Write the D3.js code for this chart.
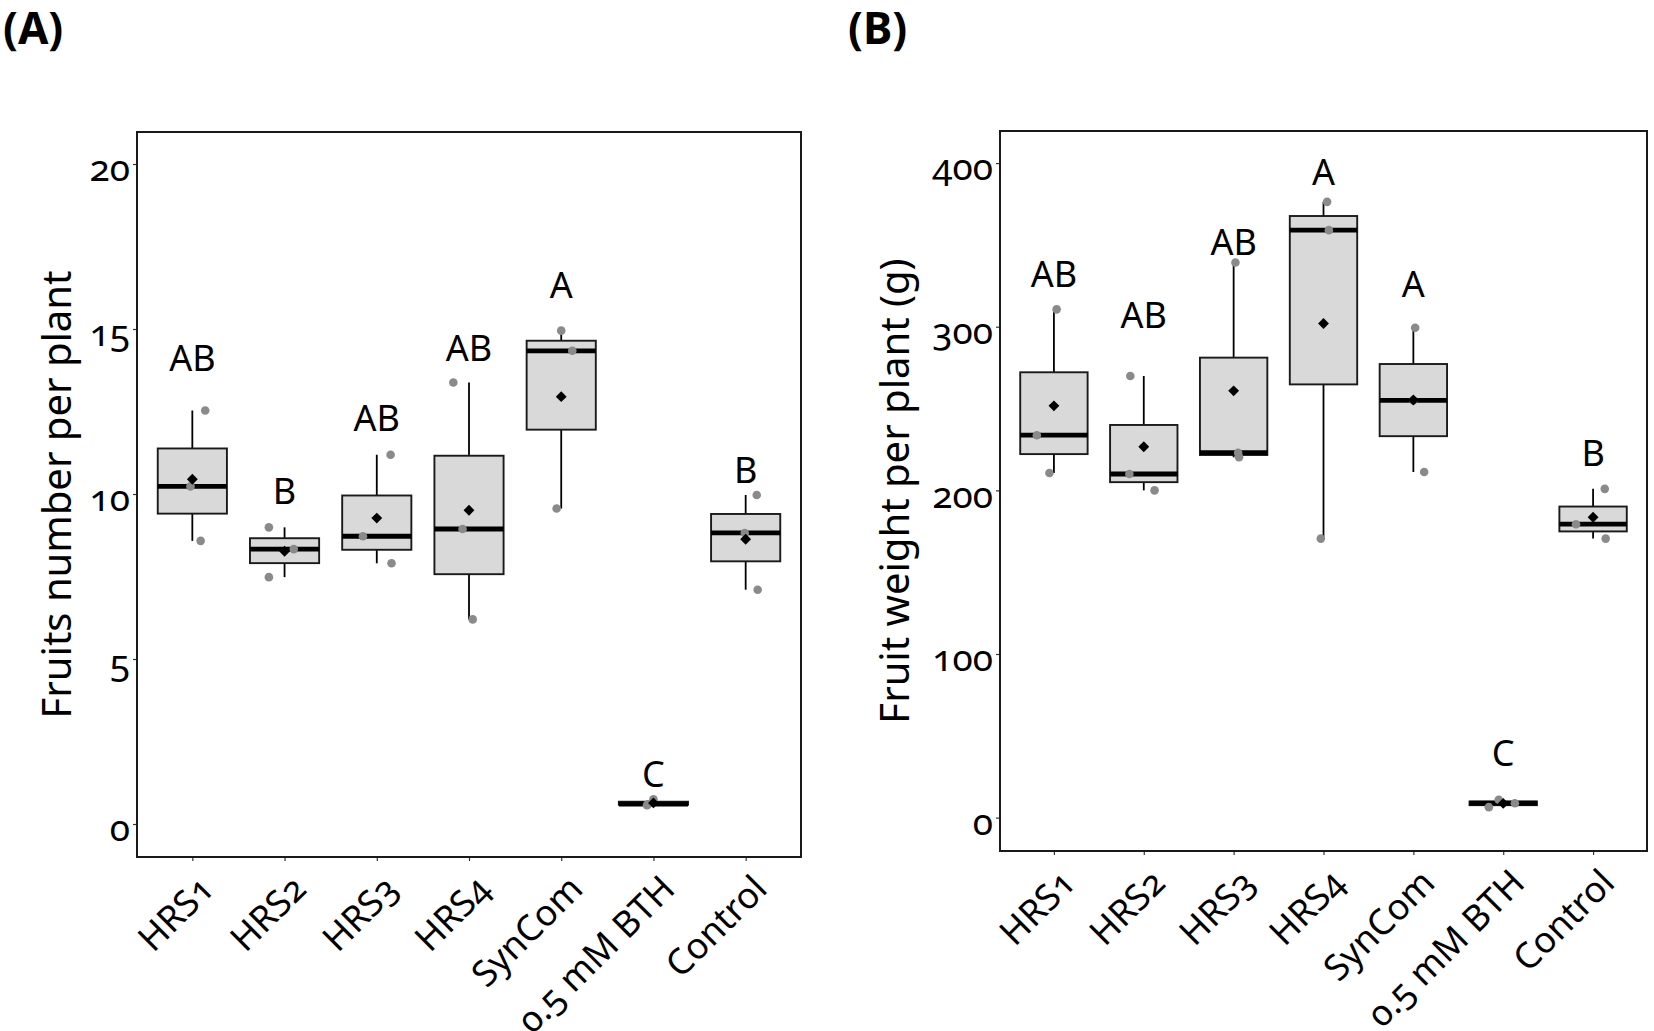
<!DOCTYPE html>
<html>
<head>
<meta charset="utf-8">
<script src="https://cdn.jsdelivr.net/npm/d3@7"></script>
<style>
  body { margin: 0; background: #fff; }
  svg { font-family: "Noto Sans", "Open Sans", sans-serif; font-variant-numeric: oldstyle-nums; font-feature-settings: "onum" 1; }
</style>
</head>
<body>
<svg id="fig" width="1654" height="1031"></svg>
<script>
const categories = ["HRS1", "HRS2", "HRS3", "HRS4", "SynCom", "0.5 mM BTH", "Control"];

// (A) fruits number per plant, three plants per treatment
const fruitsNumber = [
  [8.58, 10.23, 12.53],
  [7.48, 8.33, 8.99],
  [7.90, 8.72, 11.19],
  [6.20, 8.94, 13.38],
  [9.56, 14.34, 14.95],
  [0.57, 0.60, 0.75],
  [7.10, 8.82, 9.97]
];
// horizontal jitter of each point, in category widths
const fruitsJitter = [
  [0.09, -0.02, 0.14],
  [-0.17, 0.10, -0.17],
  [0.16, -0.15, 0.15],
  [0.04, -0.07, -0.17],
  [-0.05, 0.12, 0.0],
  [-0.07, -0.06, 0.0],
  [0.13, -0.01, 0.12]
];
const fruitsLetters = ["AB", "B", "AB", "AB", "A", "C", "B"];
const fruitsLetterY = [14.12, 10.09, 12.31, 14.42, 16.33, 1.52, 10.72];
const fruitsTicks = [0, 5, 10, 15, 20];

// (B) fruit weight per plant (g)
const fruitWeight = [
  [210.6, 233.7, 310.6],
  [200.0, 210.0, 269.9],
  [220.2, 223.0, 339.2],
  [170.5, 359.0, 376.3],
  [211.2, 255.0, 299.4],
  [6.4, 8.8, 10.9],
  [170.5, 179.3, 200.9]
];
const weightJitter = [
  [-0.05, -0.19, 0.03],
  [0.12, -0.16, -0.15],
  [0.06, 0.05, 0.02],
  [-0.03, 0.06, 0.04],
  [0.12, 0.0, 0.02],
  [-0.16, 0.13, -0.05],
  [0.14, -0.19, 0.13]
];
const weightLetters = ["AB", "AB", "AB", "A", "A", "C", "B"];
const weightLetterY = [332, 307.3, 352, 394.5, 326, 39.5, 222.8];
const weightTicks = [0, 100, 200, 300, 400];

const svg = d3.select("#fig");

/* box statistics the way R/ggplot does it (type 7 quantiles, 1.5 IQR whiskers) */
function boxStats(vals){
  let v = vals.slice().sort(d3.ascending);
  let q1 = d3.quantile(v, 0.25), med = d3.quantile(v, 0.5), q3 = d3.quantile(v, 0.75);
  let iqr = q3 - q1;
  let lo = d3.min(v.filter(d => d >= q1 - 1.5 * iqr));
  let hi = d3.max(v.filter(d => d <= q3 + 1.5 * iqr));
  return {q1: q1, med: med, q3: q3, lo: lo, hi: hi, mean: d3.mean(v)};
}

function drawPanel(p){
  let x = d3.scalePoint().domain(categories).range([p.left, p.right]).padding(0.6);
  let y = d3.scaleLinear().domain(p.yDomain).range([p.bottom, p.top]);
  let step = x.step();
  let bw = step * 0.75;
  let g = svg.append("g");

  // panel title
  svg.append("text").attr("x", p.titleX).attr("y", 44)
    .attr("font-size", 44).attr("font-weight", "bold").text(p.title);

  // y axis
  let yaxis = g.append("g").attr("transform", `translate(${p.left},0)`)
    .call(d3.axisLeft(y).tickValues(p.ticks).tickSize(4).tickPadding(3).tickFormat(d3.format("d")));
  yaxis.select(".domain").remove();
  yaxis.selectAll(".tick line").attr("stroke", "#333").attr("stroke-width", 1.2);
  yaxis.selectAll(".tick text").attr("font-size", 37).attr("fill", "#000")
    .attr("font-family", "Noto Sans").attr("dy", "0.45em");

  // x axis
  let xaxis = g.append("g").attr("transform", `translate(0,${p.bottom})`)
    .call(d3.axisBottom(x).tickSize(4));
  xaxis.select(".domain").remove();
  xaxis.selectAll(".tick line").attr("stroke", "#333").attr("stroke-width", 1.2);
  xaxis.selectAll(".tick text").attr("font-size", 36).attr("fill", "#000")
    .attr("font-family", "Noto Sans")
    .attr("x", 0).attr("y", 0).attr("dy", 0)
    .attr("text-anchor", "end")
    .attr("transform", "translate(23,34) rotate(-45)");

  // y title
  g.append("text")
    .attr("transform", `translate(${p.yTitleX},${(p.top + p.bottom) / 2}) rotate(-90)`)
    .attr("text-anchor", "middle").attr("font-size", 40).text(p.yTitle);

  // boxes
  p.values.forEach((vals, i) => {
    let s = boxStats(vals);
    let cx = x(categories[i]);
    let bg = g.append("g");
    bg.append("line").attr("x1", cx).attr("x2", cx).attr("y1", y(s.q3)).attr("y2", y(s.hi))
      .attr("stroke", "#000").attr("stroke-width", 1.8);
    bg.append("line").attr("x1", cx).attr("x2", cx).attr("y1", y(s.q1)).attr("y2", y(s.lo))
      .attr("stroke", "#000").attr("stroke-width", 1.8);
    bg.append("rect").attr("x", cx - bw / 2).attr("width", bw)
      .attr("y", y(s.q3)).attr("height", Math.max(y(s.q1) - y(s.q3), 0.5))
      .attr("fill", "#d9d9d9").attr("stroke", "#1a1a1a").attr("stroke-width", 1.9);
    bg.append("line").attr("x1", cx - bw / 2).attr("x2", cx + bw / 2)
      .attr("y1", y(s.med)).attr("y2", y(s.med))
      .attr("stroke", "#000").attr("stroke-width", 4.8);
  });

  // jittered points
  p.values.forEach((vals, i) => {
    let cx = x(categories[i]);
    vals.forEach((v, j) => {
      g.append("circle").attr("cx", cx + p.jitter[i][j] * step).attr("cy", y(v))
        .attr("r", 4.3).attr("fill", "#8a8a8a");
    });
  });

  // means
  let diamond = d3.symbol().type(d3.symbolDiamond2).size(75);
  p.values.forEach((vals, i) => {
    g.append("path").attr("d", diamond)
      .attr("transform", `translate(${x(categories[i])},${y(d3.mean(vals))})`)
      .attr("fill", "#000");
  });

  // significance letters
  p.letters.forEach((t, i) => {
    g.append("text").attr("x", x(categories[i])).attr("y", y(p.letterY[i]) + 13)
      .attr("text-anchor", "middle").attr("font-size", 36).text(t);
  });

  // panel border
  g.append("rect").attr("x", p.left).attr("y", p.top)
    .attr("width", p.right - p.left).attr("height", p.bottom - p.top)
    .attr("fill", "none").attr("stroke", "#1a1a1a").attr("stroke-width", 2);
}

drawPanel({
  title: "(A)", titleX: 3,
  left: 137, right: 801, top: 132, bottom: 857,
  yDomain: [-1.0, 20.97], ticks: fruitsTicks,
  yTitle: "Fruits number per plant", yTitleX: 71,
  values: fruitsNumber, jitter: fruitsJitter,
  letters: fruitsLetters, letterY: fruitsLetterY
});

drawPanel({
  title: "(B)", titleX: 848,
  left: 1000, right: 1647, top: 131, bottom: 851,
  yDomain: [-20.4, 419.6], ticks: weightTicks,
  yTitle: "Fruit weight per plant (g)", yTitleX: 909,
  values: fruitWeight, jitter: weightJitter,
  letters: weightLetters, letterY: weightLetterY
});
</script>
</body>
</html>
